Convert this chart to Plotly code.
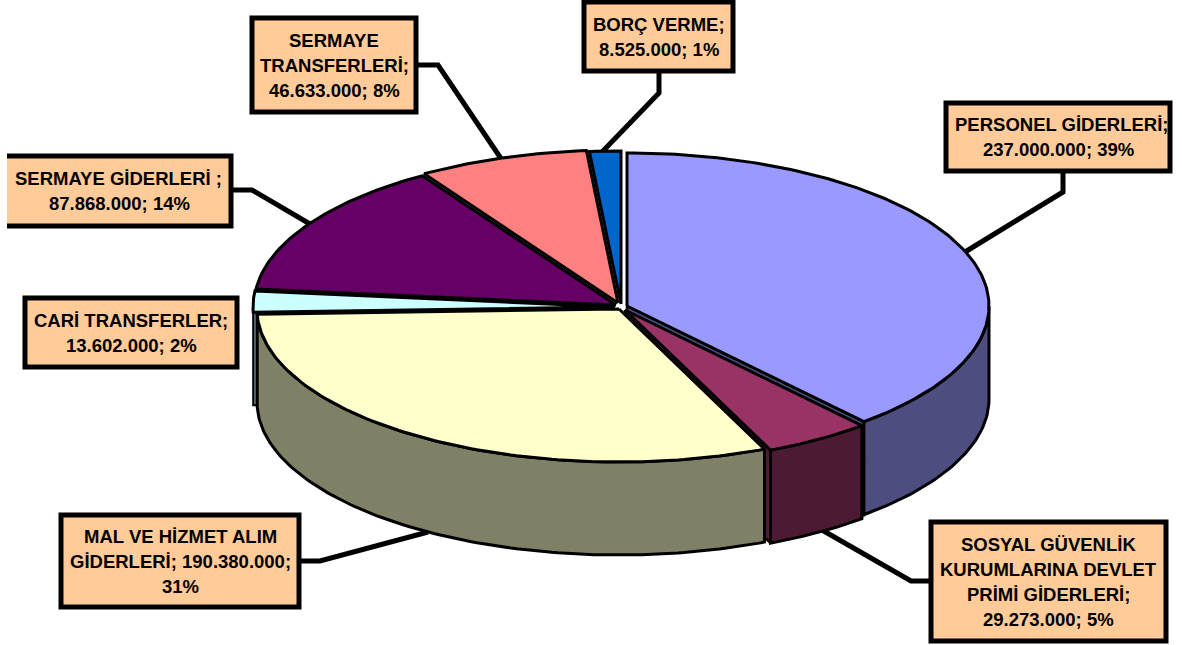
import math
import plotly.graph_objects as go

categories = ["PERSONEL GİDERLERİ", "SOSYAL GÜVENLİK KURUMLARINA DEVLET PRİMİ GİDERLERİ",
              "MAL VE HİZMET ALIM GİDERLERİ", "CARİ TRANSFERLER", "SERMAYE GİDERLERİ",
              "SERMAYE TRANSFERLERİ", "BORÇ VERME"]
values = [237000000, 29273000, 190380000, 13602000, 87868000, 46633000, 8525000]
top_colors = ["#9999FF", "#993366", "#FFFFCC", "#CCFFFF", "#660066", "#FF8080", "#0066CC"]
side_colors = ["#4D4D80", "#4D1A33", "#808066", "#668080", "#330033", "#804040", "#003366"]

label_lines = [
    ["PERSONEL GİDERLERİ;", "237.000.000; 39%"],
    ["SOSYAL GÜVENLİK", "KURUMLARINA DEVLET", "PRİMİ GİDERLERİ;", "29.273.000; 5%"],
    ["MAL VE HİZMET ALIM", "GİDERLERİ; 190.380.000;", "31%"],
    ["CARİ TRANSFERLER;", "13.602.000; 2%"],
    ["SERMAYE GİDERLERİ ;", "87.868.000; 14%"],
    ["SERMAYE", "TRANSFERLERİ;", "46.633.000; 8%"],
    ["BORÇ VERME;", "8.525.000; 1%"],
]

W, H = 1182, 645
A, B, DEPTH = 362, 153, 93
APEX = [(627, 306), (625, 310), (619, 309), (615, 307), (616, 305), (618, 303), (621, 304)]
BOXES = [(946, 103, 1170, 171), (931, 522, 1166, 641), (61, 515, 299, 607),
         (25, 298, 237, 367), (7, 156, 231, 226), (252, 18, 416, 112), (584, 2, 733, 71)]
FIRST_LINE_DX = [3, 0, 0, 0, -1, 0, 0]
LEADERS = [
    [(1063, 171), (1063, 192), (965, 252)],
    [(931, 581), (911, 581), (822, 530)],
    [(299, 561), (320, 561), (428, 532)],
    [(231, 190), (252, 190), (310, 224)],
    [(416, 65), (438, 65), (502, 160)],
    [(659, 71), (659, 93), (602, 152)],
]
DRAW_ORDER = [5, 6, 4, 3, 0, 1, 2]
END_WALL = {0, 1}

total = sum(values)
angles = [0]
for v in values:
    angles.append(angles[-1] + v / total * 2 * math.pi)


def rim(i, dy=0, lo=None, hi=None):
    cx, cy = APEX[i]
    t0 = angles[i] if lo is None else max(angles[i], lo)
    t1 = angles[i + 1] if hi is None else min(angles[i + 1], hi)
    if t1 <= t0:
        return []
    n = max(4, int((t1 - t0) * 60))
    return [(cx + A * math.sin(t0 + (t1 - t0) * k / n),
             cy - B * math.cos(t0 + (t1 - t0) * k / n) + dy) for k in range(n + 1)]


def poly(fig, pts, color, width=3):
    xs = [p[0] for p in pts] + [pts[0][0]]
    ys = [p[1] for p in pts] + [pts[0][1]]
    fig.add_trace(go.Scatter(x=xs, y=ys, mode="lines", fill="toself", fillcolor=color,
                             line=dict(color="black", width=width, shape="linear"),
                             hoverinfo="skip", showlegend=False))


fig = go.Figure()

for pts in LEADERS:
    fig.add_trace(go.Scatter(x=[p[0] for p in pts], y=[p[1] for p in pts], mode="lines",
                             line=dict(color="black", width=5), hoverinfo="skip", showlegend=False))

# narrow left sliver of the CARİ TRANSFERLER wall, behind the MAL wall
c = rim(3)[0]
poly(fig, [(c[0], c[1]), (c[0] + 6, c[1]), (c[0] + 6, c[1] + DEPTH), (c[0], c[1] + DEPTH)], side_colors[3], 2)

FRONT_LO, FRONT_HI = math.pi / 2, 3 * math.pi / 2
for i in DRAW_ORDER:
    top = rim(i)
    apex = APEX[i]
    if i in END_WALL:
        apex_low = (apex[0], apex[1] + DEPTH)
        poly(fig, [apex, top[-1], (top[-1][0], top[-1][1] + DEPTH), apex_low], side_colors[i], 2.5)
    wall_top = rim(i, 0, FRONT_LO, FRONT_HI)
    wall_bottom = rim(i, DEPTH, FRONT_LO, FRONT_HI)
    if wall_top and i != 3:
        poly(fig, wall_top + wall_bottom[::-1], side_colors[i])
    poly(fig, [apex] + top, top_colors[i])

shapes = []
annotations = []
LINE_STEP = 25
for i, (x0, y0, x1, y1) in enumerate(BOXES):
    if x0 <= 7:
        shapes.append(dict(type="rect", x0=x0, y0=y0, x1=x1, y1=y1, fillcolor="#FFCC99",
                           line=dict(width=0), layer="above"))
        shapes.append(dict(type="path",
                           path=f"M {x0} {y0} L {x1} {y0} L {x1} {y1} L {x0} {y1}",
                           line=dict(color="black", width=5), layer="above"))
    else:
        shapes.append(dict(type="rect", x0=x0, y0=y0, x1=x1, y1=y1, fillcolor="#FFCC99",
                           line=dict(color="black", width=5), layer="above"))
    lines = label_lines[i]
    yc = (y0 + y1) / 2
    xc = (x0 + x1) / 2
    for k, txt in enumerate(lines):
        annotations.append(dict(x=xc + (FIRST_LINE_DX[i] if k == 0 else 0),
                                y=yc + (k - (len(lines) - 1) / 2) * LINE_STEP, text=txt,
                                showarrow=False, xanchor="center", yanchor="middle",
                                font=dict(family="Liberation Sans", size=18.5, color="black", weight="bold")))

fig.update_layout(
    width=W, height=H, margin=dict(l=0, r=0, t=0, b=0, pad=0),
    paper_bgcolor="white", plot_bgcolor="white", showlegend=False,
    xaxis=dict(range=[0, W], visible=False, fixedrange=True),
    yaxis=dict(range=[H, 0], visible=False, fixedrange=True),
    shapes=shapes, annotations=annotations,
)
fig.write_html("out.html", config=dict(displayModeBar=False),
               post_script="document.body.style.margin='0';document.body.style.overflow='hidden';")
